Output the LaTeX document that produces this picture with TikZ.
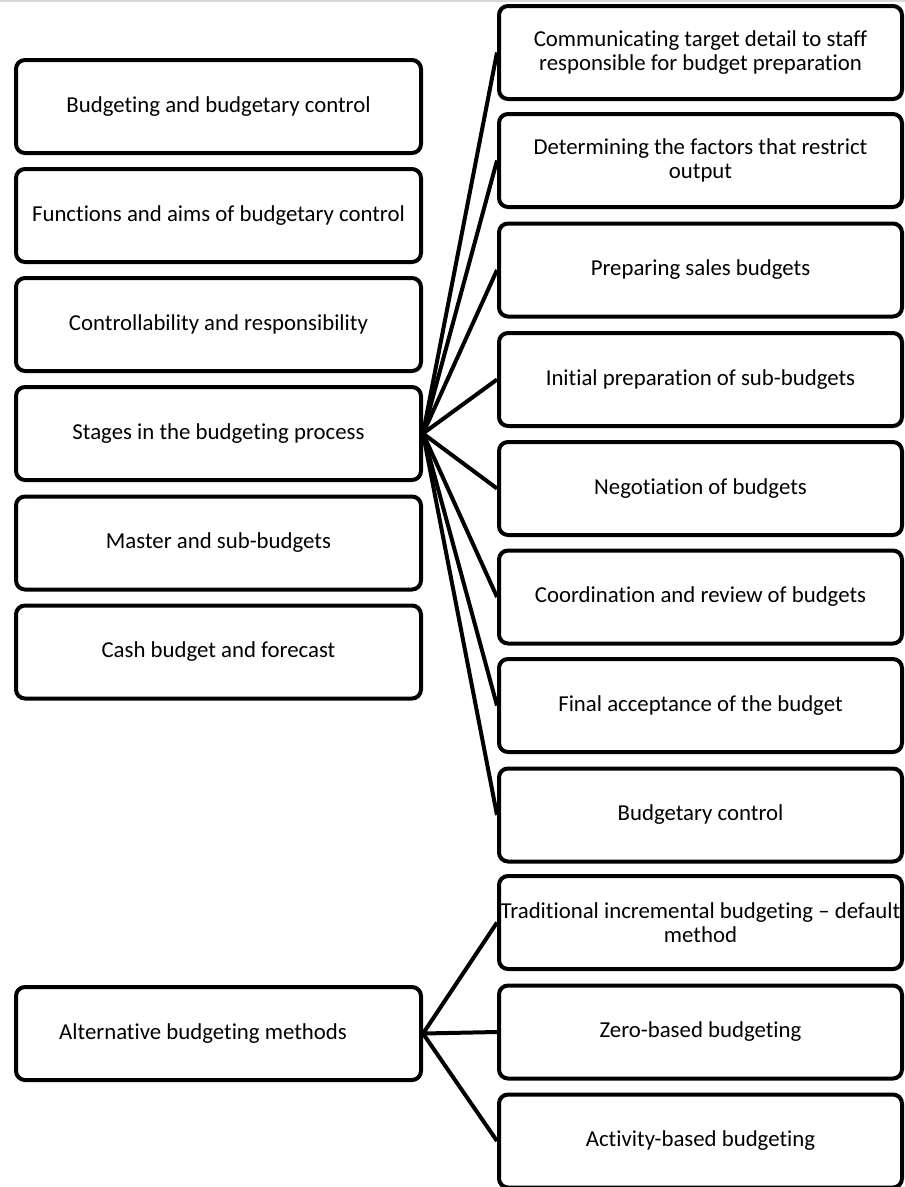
\documentclass[tikz,border=0pt]{standalone}
\usepackage{fontspec}
\setmainfont{Carlito}[Ligatures=NoCommon]
\begin{document}
\begin{tikzpicture}[x=1pt,y=-1pt,
  box/.style={draw=black, line width=4pt, rounded corners=9pt, fill=white,
    minimum height=93pt, inner sep=0pt, align=center,
    font=\fontsize{22.8}{23.5}\selectfont},
  lbox/.style={box, minimum width=405pt},
  rbox/.style={box, minimum width=403pt},
  txt/.style={inner sep=0pt, align=center, font=\fontsize{22.8}{23.5}\selectfont},
  link/.style={draw=black, line width=4pt}]
\useasboundingbox (0,0) rectangle (905,1187);
\draw[black!15, line width=1.5pt] (0,0.75) -- (905,0.75);

% topics on the left
\node[lbox] (l1) at (218.5,106.5) {Budgeting and budgetary control};
\node[lbox] (l2) at (218.5,215.5) {Functions and aims of budgetary control};
\node[lbox] (l3) at (218.5,324.5) {Controllability and responsibility};
\node[lbox] (l4) at (218.5,433.5) {Stages in the budgeting process};
\node[lbox] (l5) at (218.5,543) {Master and sub-budgets};
\node[lbox] (l6) at (218.5,652) {Cash budget and forecast};
\node[lbox] (l7) at (218.5,1033.5) {};
\node[txt] (l7t) at (203,1033.5) {Alternative budgeting methods};

% stages of the budgeting process
\node[rbox] (r1) at (700.5,52.5) {Communicating target detail to staff\\responsible for budget preparation};
\node[rbox] (r2) at (700.5,160.5) {Determining the factors that restrict\\output};
\node[rbox] (r3) at (700.5,270) {Preparing sales budgets};
\node[rbox] (r4) at (700.5,379.5) {Initial preparation of sub-budgets};
\node[rbox] (r5) at (700.5,488.5) {Negotiation of budgets};
\node[rbox] (r6) at (700.5,597) {Coordination and review of budgets};
\node[rbox] (r7) at (700.5,705.5) {Final acceptance of the budget};
\node[rbox] (r8) at (700.5,815) {Budgetary control};

% alternative methods
\node[rbox] (r9) at (700.5,922.5) {Traditional incremental budgeting -- default\\method};
\node[rbox] (r10) at (700.5,1032) {Zero-based budgeting};
\node[rbox] (r11) at (700.5,1141) {Activity-based budgeting};

% connectors
\foreach \r in {r1,r2,r3,r4,r5,r6,r7,r8}
  \draw[link] (l4.east) -- (\r.west);
\foreach \r in {r9,r10,r11}
  \draw[link] (l7.east) -- (\r.west);
\end{tikzpicture}
\end{document}
